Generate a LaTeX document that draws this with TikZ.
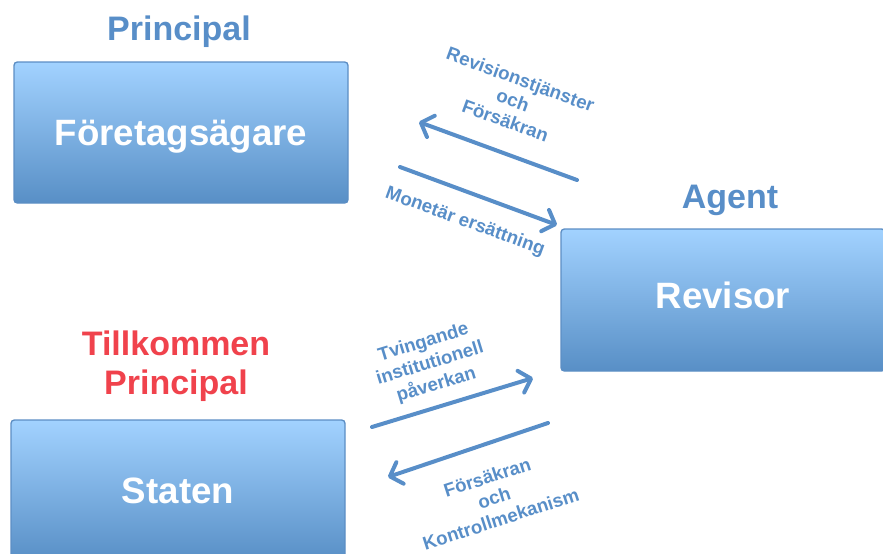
\documentclass[tikz,border=0pt]{standalone}
\usepackage{fontspec}
\setmainfont{Liberation Sans}
\usetikzlibrary{arrows.meta}

\definecolor{boxtop}{RGB}{162,210,255}
\definecolor{boxbot}{RGB}{88,143,198}
\definecolor{boxline}{RGB}{92,142,196}
\definecolor{capblue}{RGB}{88,142,200}
\definecolor{capred}{RGB}{240,66,76}

\begin{document}
\begin{tikzpicture}[
  x=0.75pt, y=-0.75pt,
  >={Straight Barb[length=8pt,width=17pt,round]},
  box/.style={draw=boxline,line width=1pt,rounded corners=2.5pt,top color=boxtop,bottom color=boxbot,
    text=white,font=\fontsize{27.5}{32}\selectfont\bfseries,text height=20pt,text depth=0pt},
  head/.style={font=\fontsize{25.5}{29}\selectfont\bfseries,text=capblue,align=center},
  lbl/.style={font=\fontsize{14}{16.5}\selectfont\bfseries,text=capblue,align=center,inner sep=0pt},
  arc/.style={->,line width=3pt,line cap=round,draw=capblue}
]
\useasboundingbox (0,0) rectangle (883,554);
\node[box,minimum width=250.5pt,minimum height=105.75pt] (owner) at (181,132.5) {Företagsägare};
\node[box,minimum width=243pt,minimum height=106.5pt,text depth=8pt] (auditor) at (723,300) {Revisor};
\node[box,minimum width=250.5pt,minimum height=105.75pt] (state) at (178,490.5) {Staten};
\node[head] (princ) at (179,32) {Principal};
\node[head] (agent) at (730,200) {Agent};
\node[head,text=capred] (added) at (176,366) {Tillkommen\\Principal};
\coordinate (s1) at (577,180);
\coordinate (t1) at (419,122);
\coordinate (s2) at (400,167);
\coordinate (t2) at (557,225);
\coordinate (s3) at (372,427);
\coordinate (t3) at (533,378);
\coordinate (s4) at (548,423);
\coordinate (t4) at (388,477);
\draw[arc] (s1) -- (t1);
\draw[arc] (s2) -- (t2);
\draw[arc] (s3) -- (t3);
\draw[arc] (s4) -- (t4);
\node[lbl,rotate=-20] (l1) at (513,100) {Revisionstjänster\\och\\Försäkran};
\node[lbl,rotate=-20] (l2) at (465,222) {Monetär ersättning};
\node[lbl,rotate=17] (l3) at (430,364) {Tvingande\\institutionell\\påverkan};
\node[lbl,rotate=18] (l4) at (494,498) {Försäkran\\och\\Kontrollmekanism};
\end{tikzpicture}
\end{document}
